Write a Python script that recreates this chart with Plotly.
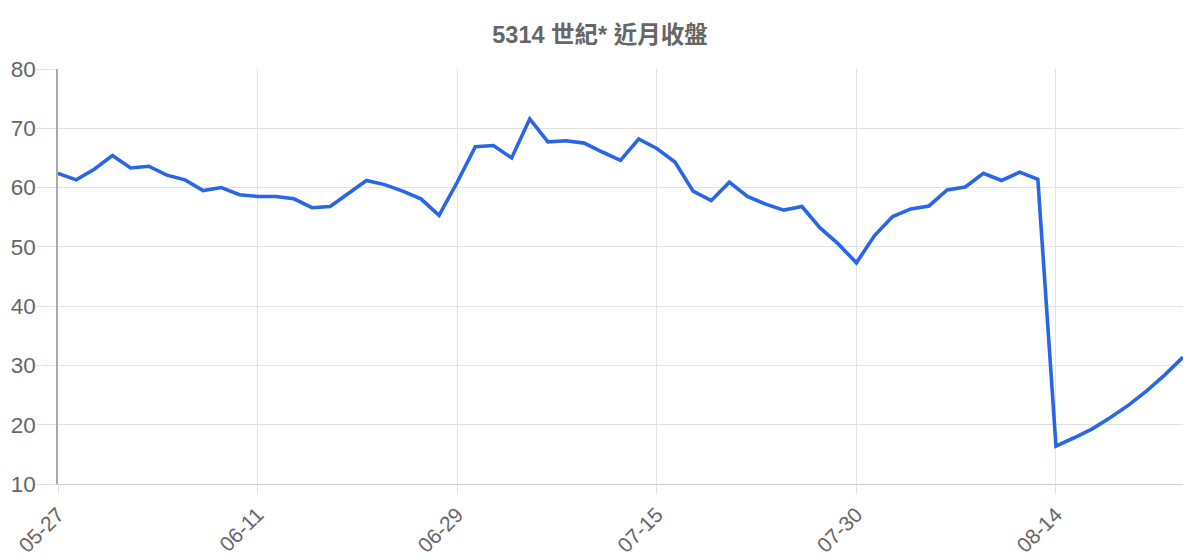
import plotly.graph_objects as go

# trading dates (only every 11th is labelled on the axis)
dates = [
    "05-27", "05-28", "05-29", "05-30", "05-31", "06-03", "06-04", "06-05", "06-06", "06-07", "06-10",
    "06-11", "06-12", "06-13", "06-14", "06-17", "06-18", "06-19", "06-20", "06-21", "06-24", "06-26",
    "06-29", "07-01", "07-02", "07-03", "07-04", "07-05", "07-08", "07-09", "07-10", "07-11", "07-12",
    "07-15", "07-16", "07-17", "07-18", "07-19", "07-22", "07-23", "07-24", "07-25", "07-26", "07-29",
    "07-30", "07-31", "08-01", "08-02", "08-05", "08-06", "08-07", "08-08", "08-09", "08-12", "08-13",
    "08-14", "08-15", "08-16", "08-19", "08-20", "08-21", "08-22", "08-23",
]

close = [
    62.4, 61.3, 63.1, 65.4, 63.3, 63.6, 62.1, 61.3, 59.5, 60.0, 58.8,
    58.5, 58.5, 58.1, 56.6, 56.8, 59.0, 61.2, 60.5, 59.4, 58.1, 55.3,
    60.9, 66.9, 67.1, 65.0, 71.6, 67.7, 67.9, 67.5, 66.0, 64.6, 68.2,
    66.6, 64.3, 59.4, 57.8, 60.9, 58.5, 57.2, 56.2, 56.8, 53.2, 50.5,
    47.3, 51.9, 55.1, 56.4, 56.9, 59.6, 60.1, 62.4, 61.2, 62.6, 61.4,
    16.4, 17.8, 19.3, 21.2, 23.3, 25.7, 28.4, 31.4,
]

tick_labels = dates[::11]
y_ticks = [10, 20, 30, 40, 50, 60, 70, 80]

fig = go.Figure()
fig.add_trace(go.Scatter(x=dates, y=close, mode="lines",
                         line=dict(color="#2866e6", width=3.6),
                         hoverinfo="x+y", showlegend=False))

# page body has an 8px margin, so the figure is sized to fit the window
fig.update_layout(
    width=1184, height=544,
    margin=dict(l=50, r=9, t=61, b=68),
    paper_bgcolor="white", plot_bgcolor="white",
    font=dict(family="Liberation Sans, Arial, Noto Sans CJK TC, sans-serif", color="#666666"),
    title=dict(text="<b>5314 世紀* 近月收盤</b>", x=0.5, xanchor="center", y=0.95, yanchor="middle",
               font=dict(size=23.5, color="#666666",
                         family="Liberation Sans, Noto Sans CJK TC, sans-serif")),
)

fig.update_xaxes(
    type="category", range=[0, len(dates) - 1], automargin=False,
    tickmode="array", tickvals=tick_labels, ticktext=tick_labels,
    tickangle=-45, tickfont=dict(size=21, color="#666666"),
    showgrid=True, gridcolor="#e2e2e2", gridwidth=1,
    ticks="outside", ticklen=9, tickcolor="#e2e2e2", tickwidth=1,
    showline=True, linecolor="#cfcfcf", linewidth=1,
    zeroline=False,
)
fig.update_yaxes(
    range=[10, 80], tickmode="array", tickvals=y_ticks, automargin=False,
    tickfont=dict(size=22.5, color="#666666"),
    ticklabelstandoff=-4,
    showgrid=True, gridcolor="#e2e2e2", gridwidth=1,
    ticks="outside", ticklen=20, tickcolor="#e2e2e2", tickwidth=1,
    showline=True, linecolor="#aaaaaa", linewidth=1.5,
    zeroline=False,
)

fig.write_html("out.html")
